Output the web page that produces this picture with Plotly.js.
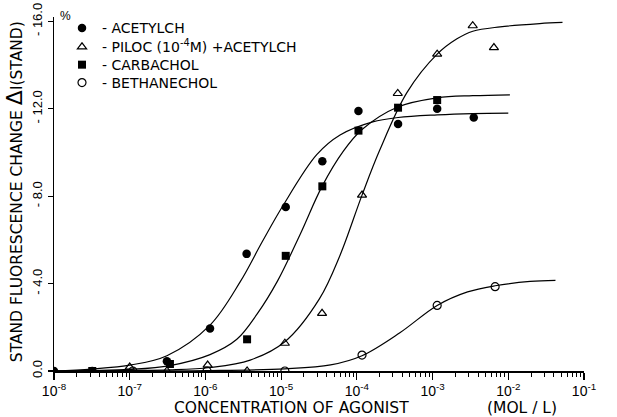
<!DOCTYPE html>
<html>
<head>
<meta charset="utf-8">
<script src="https://cdn.plot.ly/plotly-3.0.1.min.js"></script>
<style>html,body{margin:0;padding:0;background:#fff;}#chart{width:617px;height:417px;}</style>
</head>
<body>
<div id="chart"></div>
<script>
// ---- data ----
const acetylX = [1e-8, 3.2e-8, 3.1e-7, 1.15e-6, 3.5e-6, 1.15e-5, 3.5e-5, 1.05e-4, 3.5e-4, 1.15e-3, 3.5e-3];
const acetylY = [0, 0, -0.45, -1.95, -5.36, -7.5, -9.6, -11.9, -11.3, -12.0, -11.6];

const pilocX = [1e-7, 3.1e-7, 1.07e-6, 3.55e-6, 1.12e-5, 3.47e-5, 1.17e-4, 3.47e-4, 1.15e-3, 3.39e-3, 6.46e-3];
const pilocY = [-0.18, 0, -0.27, 0, -1.27, -2.64, -8.05, -12.7, -14.5, -15.8, -14.8];

const carbX = [3.2e-8, 3.4e-7, 3.55e-6, 1.15e-5, 3.5e-5, 1.05e-4, 3.5e-4, 1.15e-3];
const carbY = [0, -0.32, -1.45, -5.27, -8.45, -11.0, -12.05, -12.4];

const bethX = [1.1e-7, 1.05e-6, 1.12e-5, 1.17e-4, 1.15e-3, 6.7e-3];
const bethY = [0, 0, 0, -0.73, -3.0, -3.86];

// fitted curves
const acetylCurveX = [1e-8, 3.16e-8, 1.05e-7, 3.1e-7, 1.15e-6, 2.9e-6, 5.6e-6, 1.05e-5, 2.95e-5, 6.0e-5, 1.62e-4, 3.5e-4, 1.15e-3, 3.4e-3, 1e-2];
const acetylCurveY = [0, -0.09, -0.28, -0.7, -2.1, -4.1, -5.9, -7.55, -9.9, -10.8, -11.4, -11.6, -11.72, -11.78, -11.8];

const carbCurveX = [1e-8, 3.16e-8, 1e-7, 3.4e-7, 1.15e-6, 2.6e-6, 4.8e-6, 8.9e-6, 1.78e-5, 3.47e-5, 6.6e-5, 1.17e-4, 3.47e-4, 1.15e-3, 3.4e-3, 1.05e-2];
const carbCurveY = [0, -0.02, -0.07, -0.25, -0.75, -1.45, -2.6, -4.1, -6.25, -8.45, -10.05, -11.05, -12.08, -12.5, -12.6, -12.64];

const pilocCurveX = [1e-8, 1e-7, 3.4e-7, 1.15e-6, 3.9e-6, 1.12e-5, 3.2e-5, 6.0e-5, 1.17e-4, 2.0e-4, 4.6e-4, 1.15e-3, 2.1e-3, 3.4e-3, 7.8e-3, 2.6e-2, 5.2e-2];
const pilocCurveY = [0, -0.02, -0.05, -0.16, -0.5, -1.34, -3.3, -5.3, -8.05, -10.1, -12.75, -14.5, -15.2, -15.55, -15.75, -15.9, -15.95];

const bethCurveX = [1e-8, 1e-7, 1.05e-6, 1.12e-5, 4.5e-5, 1.17e-4, 3.7e-4, 1.15e-3, 2.9e-3, 6.7e-3, 1.95e-2, 4.2e-2];
const bethCurveY = [0, 0, -0.02, -0.1, -0.28, -0.7, -1.75, -3.0, -3.62, -3.9, -4.1, -4.15];

const seriesNames = ["- ACETYLCH", "- PILOC (10<sup>-4</sup>M) +ACETYLCH", "- CARBACHOL", "- BETHANECHOL"];

const xTickVals = [1e-8, 1e-7, 1e-6, 1e-5, 1e-4, 1e-3, 1e-2, 1e-1];
const xTickText = ["10<sup>-8</sup>", "10<sup>-7</sup>", "10<sup>-6</sup>", "10<sup>-5</sup>", "10<sup>-4</sup>", "10<sup>-3</sup>", "10<sup>-2</sup>", "10<sup>-1</sup>"];
const yTickVals = [0, -4, -8, -12, -16];
const yTickText = ["0.0", "- 4.0", "- 8.0", "- 12.0", "- 16.0"];

// ---- layout helpers ----
const W = 617, H = 417;
const L = 54, R = 584, T = 14.6, B = 371;
const px2x = p => (p - L) / (R - L);
const px2y = p => (B - p) / (B - T);
const FONT = "Liberation Sans, Arial, sans-serif";
const WFONT = "DejaVu Sans, Verdana, sans-serif";

const minorVals = [];
for (let k = -8; k <= -2; k++) for (let m = 2; m <= 9; m++) minorVals.push(m * Math.pow(10, k));

const lineStyle = {color: "#000", width: 1.2, shape: "spline", smoothing: 1};

const traces = [
  {x: acetylCurveX, y: acetylCurveY, mode: "lines", line: lineStyle, showlegend: false, hoverinfo: "skip"},
  {x: pilocCurveX, y: pilocCurveY, mode: "lines", line: lineStyle, showlegend: false, hoverinfo: "skip"},
  {x: carbCurveX, y: carbCurveY, mode: "lines", line: lineStyle, showlegend: false, hoverinfo: "skip"},
  {x: bethCurveX, y: bethCurveY, mode: "lines", line: lineStyle, showlegend: false, hoverinfo: "skip"},
  {x: acetylX, y: acetylY, mode: "markers", name: seriesNames[0], legend: "legend",
   marker: {symbol: "circle", size: 8.5, color: "#000"}},
  {x: pilocX, y: pilocY, mode: "markers", name: seriesNames[1], legend: "legend2",
   marker: {symbol: "triangle-up-open", size: 8, color: "#000", line: {width: 1.2}}},
  {x: carbX, y: carbY, mode: "markers", name: seriesNames[2], legend: "legend3",
   marker: {symbol: "square", size: 8, color: "#000"}},
  {x: bethX, y: bethY, mode: "markers", name: seriesNames[3], legend: "legend4",
   marker: {symbol: "circle-open", size: 8, color: "#000", line: {width: 1.2}}}
];

function legendAt(py) {
  return {x: px2x(62), y: px2y(py), xanchor: "left", yanchor: "middle",
          bgcolor: "rgba(0,0,0,0)", font: {family: WFONT, size: 14, color: "#000"},
          itemwidth: 30, borderwidth: 0};
}

const layout = {
  width: W, height: H,
  margin: {l: L, r: W - R, t: T, b: H - B},
  paper_bgcolor: "#fff", plot_bgcolor: "#fff",
  font: {family: FONT, color: "#000", size: 13},
  showlegend: true,
  legend: legendAt(26),
  legend2: legendAt(45),
  legend3: legendAt(63),
  legend4: legendAt(81),
  xaxis: {
    type: "log", range: [-8, -1], showgrid: false, zeroline: false,
    showline: true, linecolor: "#000", linewidth: 1.5,
    ticks: "outside", ticklen: 7, tickwidth: 1.2, tickcolor: "#000",
    tickmode: "array", tickvals: xTickVals, ticktext: xTickText,
    tickfont: {family: FONT, size: 14, color: "#000"},
    minor: {tickmode: "array", tickvals: minorVals, ticks: "outside", ticklen: 4, tickwidth: 1, tickcolor: "#000", showgrid: false}
  },
  yaxis: {
    range: [0, -16.2], showgrid: false, zeroline: false,
    showline: true, linecolor: "#000", linewidth: 1.5,
    ticks: "outside", ticklen: 5, tickwidth: 1.2, tickcolor: "#000",
    tickmode: "array", tickvals: yTickVals, ticktext: yTickText, tickangle: -90,
    tickfont: {family: FONT, size: 13, color: "#000"}
  },
  annotations: [
    {text: "CONCENTRATION OF AGONIST", xref: "paper", yref: "paper", x: px2x(291), y: px2y(408.5),
     xanchor: "center", yanchor: "middle", showarrow: false, font: {family: WFONT, size: 15.5, color: "#000"}},
    {text: "(MOL / L)", xref: "paper", yref: "paper", x: px2x(522), y: px2y(408.5),
     xanchor: "center", yanchor: "middle", showarrow: false, font: {family: WFONT, size: 15.5, color: "#000"}},
    {text: "STAND FLUORESCENCE CHANGE <span style='font-size:22px'>Δ</span>I(STAND)", xref: "paper", yref: "paper",
     x: px2x(14), y: px2y(191), xanchor: "center", yanchor: "middle", textangle: -90, showarrow: false,
     font: {family: WFONT, size: 15.5, color: "#000"}},
    {text: "%", xref: "paper", yref: "paper", x: px2x(65), y: px2y(14),
     xanchor: "center", yanchor: "middle", showarrow: false, font: {family: FONT, size: 12, color: "#000"}}
  ]
};

Plotly.newPlot("chart", traces, layout, {displayModeBar: false, staticPlot: true});
</script>
</body>
</html>
